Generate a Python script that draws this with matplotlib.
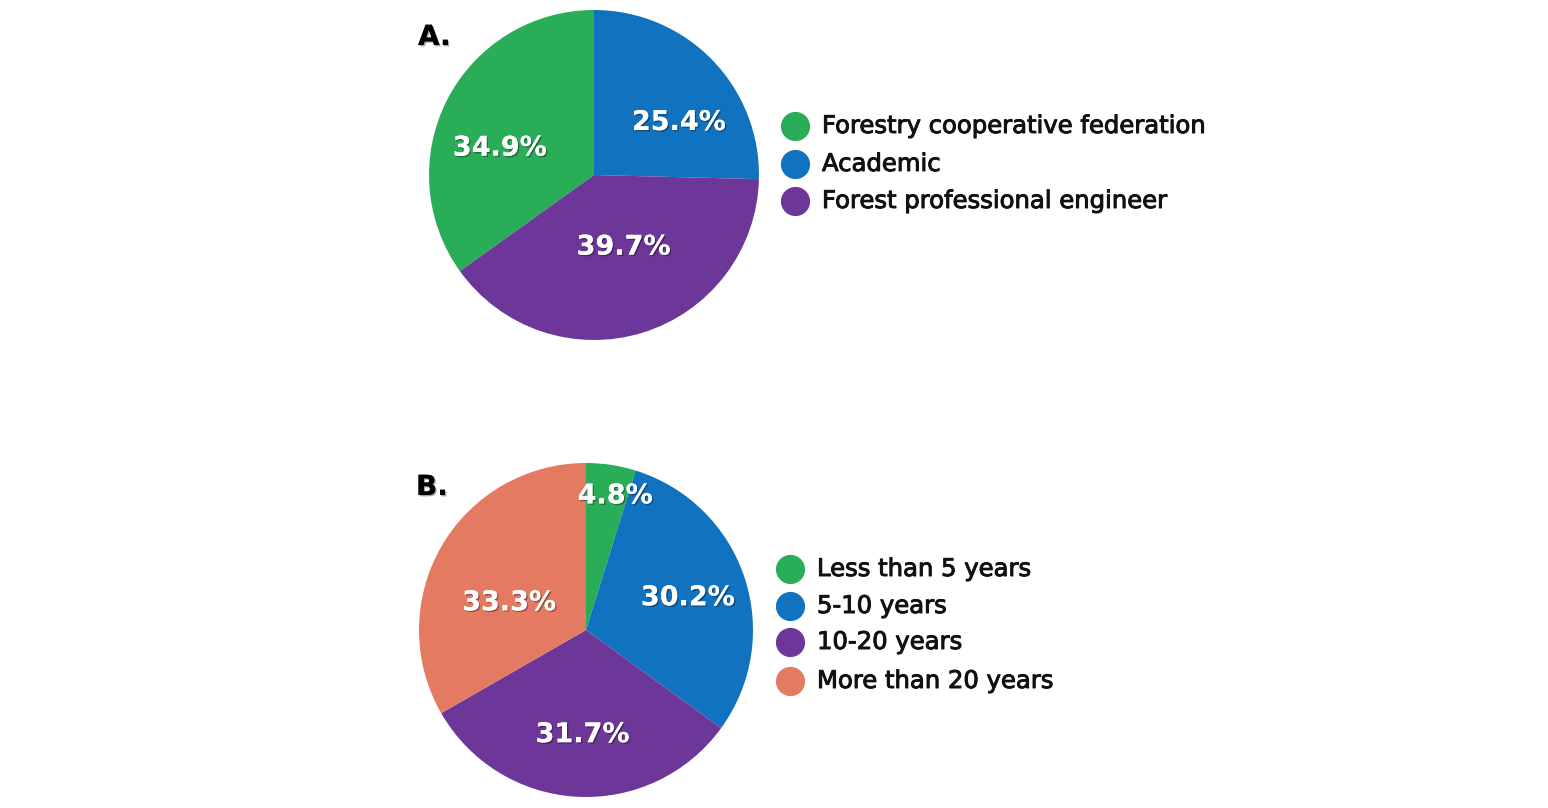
import numpy as np
import matplotlib
matplotlib.use("Agg")
from matplotlib import pyplot as plt
from matplotlib import patheffects as pe
from matplotlib.lines import Line2D

plt.rcParams['font.family'] = ['DejaVu Sans']

# --- data ---
labels_a = ["Forestry cooperative federation", "Academic", "Forest professional engineer"]
values_a = [34.9, 25.4, 39.7]
colors_a = ["#2aad57", "#1172bf", "#6c3799"]

labels_b = ["Less than 5 years", "5-10 years", "10-20 years", "More than 20 years"]
values_b = [4.8, 30.2, 31.7, 33.3]
colors_b = ["#2aad57", "#1172bf", "#6c3799", "#e37a61"]

# --- layout (pixels / axes units) ---
W, H = 1548, 808
pct_pos_a = [(-0.57, 0.16), (0.515, 0.315), (0.18, -0.44)]
pct_pos_b = [(0.175, 0.80), (0.61, 0.19), (-0.02, -0.63), (-0.46, 0.16)]

shadow = [pe.withSimplePatchShadow(offset=(1, -1), shadow_rgbFace='black', alpha=0.35),
          pe.Normal()]
semibold = [pe.withStroke(linewidth=0.7, foreground='#111111')]


def pie_axes(fig, cx, cy, r):
    return fig.add_axes([(cx - r) / W, (H - cy - r) / H, 2 * r / W, 2 * r / H])


def draw_pie(ax, values, colors, startangle, pct_pos):
    wedges, _ = ax.pie(values, colors=colors, startangle=startangle, counterclock=False,
                       radius=1.0, wedgeprops=dict(linewidth=0))
    for v, (x, y) in zip(values, pct_pos):
        ax.text(x, y, f"{v:.1f}%", ha='center', va='center', color='white',
                fontsize=19.5, fontweight='bold', path_effects=shadow)
    ax.set_xlim(-1, 1)
    ax.set_ylim(-1, 1)
    ax.set_aspect('equal')
    ax.axis('off')


def draw_legend(fig, labels, colors, mx, tx, ys):
    for lab, c, y in zip(labels, colors, ys):
        fig.add_artist(Line2D([mx / W], [1 - y / H], marker='o', markersize=20,
                              color=c, linestyle='none', transform=fig.transFigure))
        fig.text(tx / W, 1 - y / H, lab, ha='left', va='center', fontsize=17.5,
                 color='#111111', path_effects=semibold)


fig = plt.figure(figsize=(W / 100, H / 100), dpi=100)

ax_a = pie_axes(fig, 594, 175, 165)
draw_pie(ax_a, values_a, colors_a, 90 + values_a[0] * 3.6, pct_pos_a)

ax_b = pie_axes(fig, 586, 630, 167)
draw_pie(ax_b, values_b, colors_b, 90, pct_pos_b)

draw_legend(fig, labels_a, colors_a, 795, 822, [126, 164, 201])
draw_legend(fig, labels_b, colors_b, 790, 817, [569, 606, 642, 681])

fig.text(418 / W, 1 - 37 / H, "A.", fontsize=20, fontweight='bold', va='center',
         ha='left', path_effects=shadow)
fig.text(416 / W, 1 - 487 / H, "B.", fontsize=20, fontweight='bold', va='center',
         ha='left', path_effects=shadow)

fig.savefig("out.png", dpi=100, facecolor='white')
